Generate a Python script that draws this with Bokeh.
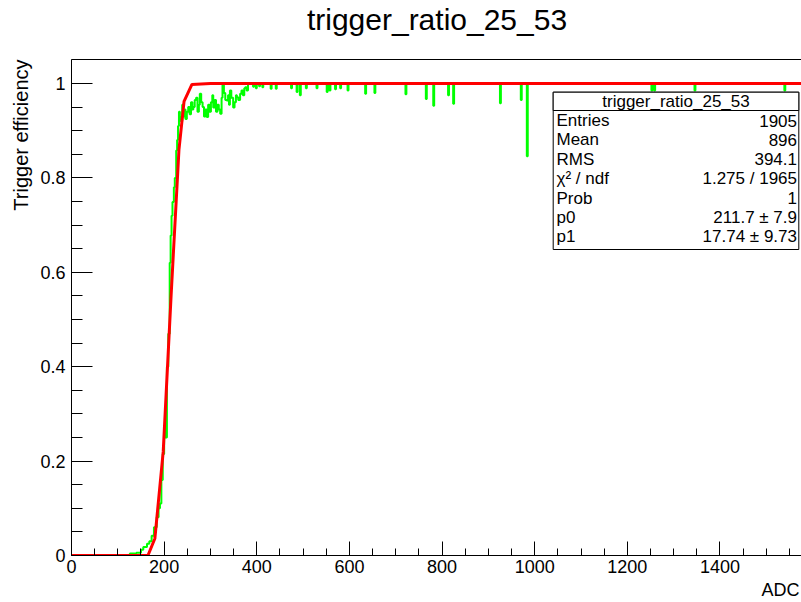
import numpy as np
from bokeh.plotting import figure
from bokeh.models import Label, BoxAnnotation, FixedTicker, Title, Span
from bokeh.embed import file_html
from bokeh.resources import INLINE

# ---------------- data ----------------
title_text = "trigger_ratio_25_53"
x_title = "ADC"
y_title = "Trigger efficiency"

# measured efficiency on the rising edge: bin left edge (ADC), value
rise_adc = [0, 126, 140, 150, 155, 163, 168, 173, 178, 184, 188, 191, 194, 197,
            200, 202, 204, 206, 209, 212, 214, 216, 218, 221, 223, 226, 228,
            230, 232, 234, 236, 239, 241, 244, 246, 249, 252, 255, 258, 261,
            263, 266, 269, 272, 275, 277, 280, 283, 286, 289, 292, 295, 298,
            301, 304, 306, 309, 312, 315, 318, 321, 324, 326, 329, 332, 335,
            338, 340, 342, 345, 349, 352, 355, 357, 360, 364, 367, 370, 373,
            375, 378, 381]
rise_eff = [0.0, 0.004, 0.006, 0.012, 0.018, 0.025, 0.03, 0.042, 0.06, 0.081,
            0.10, 0.11, 0.16, 0.215, 0.25, 0.286, 0.25, 0.40, 0.47, 0.62,
            0.678, 0.72, 0.749, 0.78, 0.80, 0.858, 0.88, 0.91, 0.94, 0.929,
            0.92, 0.955, 0.93, 0.945, 0.925, 0.94, 0.95, 0.935, 0.96, 0.945,
            0.95, 0.965, 0.97, 0.94, 0.955, 0.978, 0.96, 0.95, 0.93, 0.945,
            0.929, 0.955, 0.94, 0.96, 0.975, 0.949, 0.965, 0.94, 0.955, 0.945,
            0.936, 0.97, 0.996, 0.98, 0.965, 0.964, 0.975, 0.955, 0.985, 0.97,
            0.949, 0.96, 0.975, 0.971, 0.965, 0.978, 0.985, 0.975, 0.99,
            0.992, 0.985, 1.0]

# isolated dips on the plateau: ADC, value
dip_adc = [392, 398, 405, 412, 430, 441, 474, 486, 493, 506, 529, 551, 557,
           569, 580, 596, 634, 654, 721, 765, 781, 813, 824, 925, 970, 983,
           1252, 1258, 1345, 1539]
dip_eff = [0.993, 0.99, 0.994, 0.992, 0.989, 0.989, 0.99, 0.982, 0.975, 0.99,
           0.99, 0.982, 0.985, 0.988, 0.99, 0.985, 0.978, 0.98, 0.977, 0.967,
           0.953, 0.975, 0.957, 0.958, 0.965, 0.846, 0.985, 0.985, 0.985,
           0.985]
plateau_eff = 1.0
dip_width = 2.0

# fitted curve as drawn (ADC, efficiency)
fit_adc = [0, 165, 180, 198, 215, 232, 243, 260, 300, 1576]
fit_eff = [0.0, 0.0, 0.036, 0.22, 0.55, 0.86, 0.962, 0.998, 1.0, 1.0]

x_max = 1576
y_max = 1.0508
x_ticks = [0, 200, 400, 600, 800, 1000, 1200, 1400]
x_tick_labels = ["0", "200", "400", "600", "800", "1000", "1200", "1400"]
y_ticks = [0, 0.2, 0.4, 0.6, 0.8, 1.0]
y_tick_labels = ["0", "0.2", "0.4", "0.6", "0.8", "1"]

stats_title = "trigger_ratio_25_53"
stats_names = ["Entries", "Mean", "RMS", "\u03c7\u00b2 / ndf", "Prob", "p0", "p1"]
stats_values = ["1905", "896", "394.1", "1.275 / 1965", "1",
                "211.7 \u00b1 7.9", "17.74 \u00b1 9.73"]

# ---------------- build histogram outline ----------------
hx = list(rise_adc)
hy = list(rise_eff)
for a, v in zip(dip_adc, dip_eff):
    hx += [a, a + dip_width]
    hy += [v, plateau_eff]
hx.append(x_max)
hy.append(plateau_eff)

# ---------------- layout (pixels) ----------------
W, H = 801, 602
FL, FR, FT, FB = 71, 801, 59, 555   # visible axes box
FONT = "Liberation Sans"


def px_x(px):
    return (px - FL) / (FR - FL) * x_max


def px_y(py):
    return (FB - py) / (FB - FT) * y_max


# the plotting frame reaches the top of the canvas so that the main title
# (a Label) can be drawn inside it; the visible axes box stops at y_max
p = figure(width=W, height=H, x_range=(0, x_max), y_range=(0, px_y(0)),
           output_backend="svg", toolbar_location=None,
           min_border_left=FL, min_border_right=W - FR,
           min_border_top=0, min_border_bottom=H - FB)
p.xgrid.visible = False
p.ygrid.visible = False
p.outline_line_color = None
p.background_fill_color = "white"
p.border_fill_color = "white"

p.add_layout(Span(location=y_max, dimension="width", line_color="black",
                  line_width=1))

p.step(hx, hy, mode="after", line_color="#00ff00", line_width=2)
p.line(fit_adc, fit_eff, line_color="#ff0000", line_width=3)

# axes
for ax in (p.xaxis[0], p.yaxis[0]):
    ax.axis_line_color = "black"
    ax.major_tick_line_color = "black"
    ax.minor_tick_line_color = "black"
    ax.major_tick_out = 0
    ax.minor_tick_out = 0
    ax.major_label_text_font = FONT
    ax.major_label_text_font_size = "18px"
    ax.major_label_text_color = "black"

p.xaxis.ticker = FixedTicker(ticks=x_ticks, minor_ticks=list(range(0, x_max, 50)))
p.xaxis.major_label_overrides = {t: l for t, l in zip(x_ticks, x_tick_labels)}
p.xaxis.major_tick_in = 14
p.xaxis.minor_tick_in = 7
p.xaxis.major_label_standoff = 4

p.yaxis.bounds = (0, y_max)
p.yaxis.ticker = FixedTicker(ticks=y_ticks,
                             minor_ticks=[round(0.05 * i, 2) for i in range(22)])
p.yaxis.major_label_overrides = {t: l for t, l in zip(y_ticks, y_tick_labels)}
p.yaxis.major_tick_in = 21
p.yaxis.minor_tick_in = 11
p.yaxis.major_label_standoff = 6

# titles
p.add_layout(Label(x=px_x(436.5), y=px_y(19), text=title_text,
                   text_font=FONT, text_font_size="30px", text_align="center",
                   text_baseline="alphabetic", text_color="black"))
p.add_layout(Title(text=x_title, align="right", text_font=FONT,
                   text_font_size="18px", text_font_style="normal",
                   text_color="black", offset=2, standoff=4), "below")
p.add_layout(Title(text=y_title, align="right", text_font=FONT,
                   text_font_size="20px", text_font_style="normal",
                   text_color="black", offset=FT, standoff=12), "left")

# stats box
BL, BR, BT, BB, BS = 552.7, 798.3, 91.7, 249, 110
p.add_layout(BoxAnnotation(left=px_x(BL), right=px_x(BR), top=px_y(BT),
                           bottom=px_y(BB), fill_color="white", fill_alpha=1,
                           line_color="black", line_width=1, line_alpha=1))
p.add_layout(BoxAnnotation(left=px_x(BL), right=px_x(BR), top=px_y(BT),
                           bottom=px_y(BS), fill_color="white", fill_alpha=1,
                           line_color="black", line_width=1, line_alpha=1))
p.add_layout(Label(x=px_x((BL + BR) / 2), y=px_y((BT + BS) / 2 + 0.5),
                   text=stats_title, text_font=FONT, text_font_size="17px",
                   text_align="center", text_baseline="middle",
                   text_color="black"))
row0, row_step = 120.0, 19.4
for i, (n, v) in enumerate(zip(stats_names, stats_values)):
    yy = px_y(row0 + i * row_step)
    p.add_layout(Label(x=px_x(556), y=yy, text=n, text_font=FONT,
                       text_font_size="17px", text_align="left",
                       text_baseline="middle", text_color="black"))
    p.add_layout(Label(x=px_x(796.5), y=yy, text=v, text_font=FONT,
                       text_font_size="17px", text_align="right",
                       text_baseline="middle", text_color="black"))

open("out.html", "w").write(file_html(p, INLINE))
